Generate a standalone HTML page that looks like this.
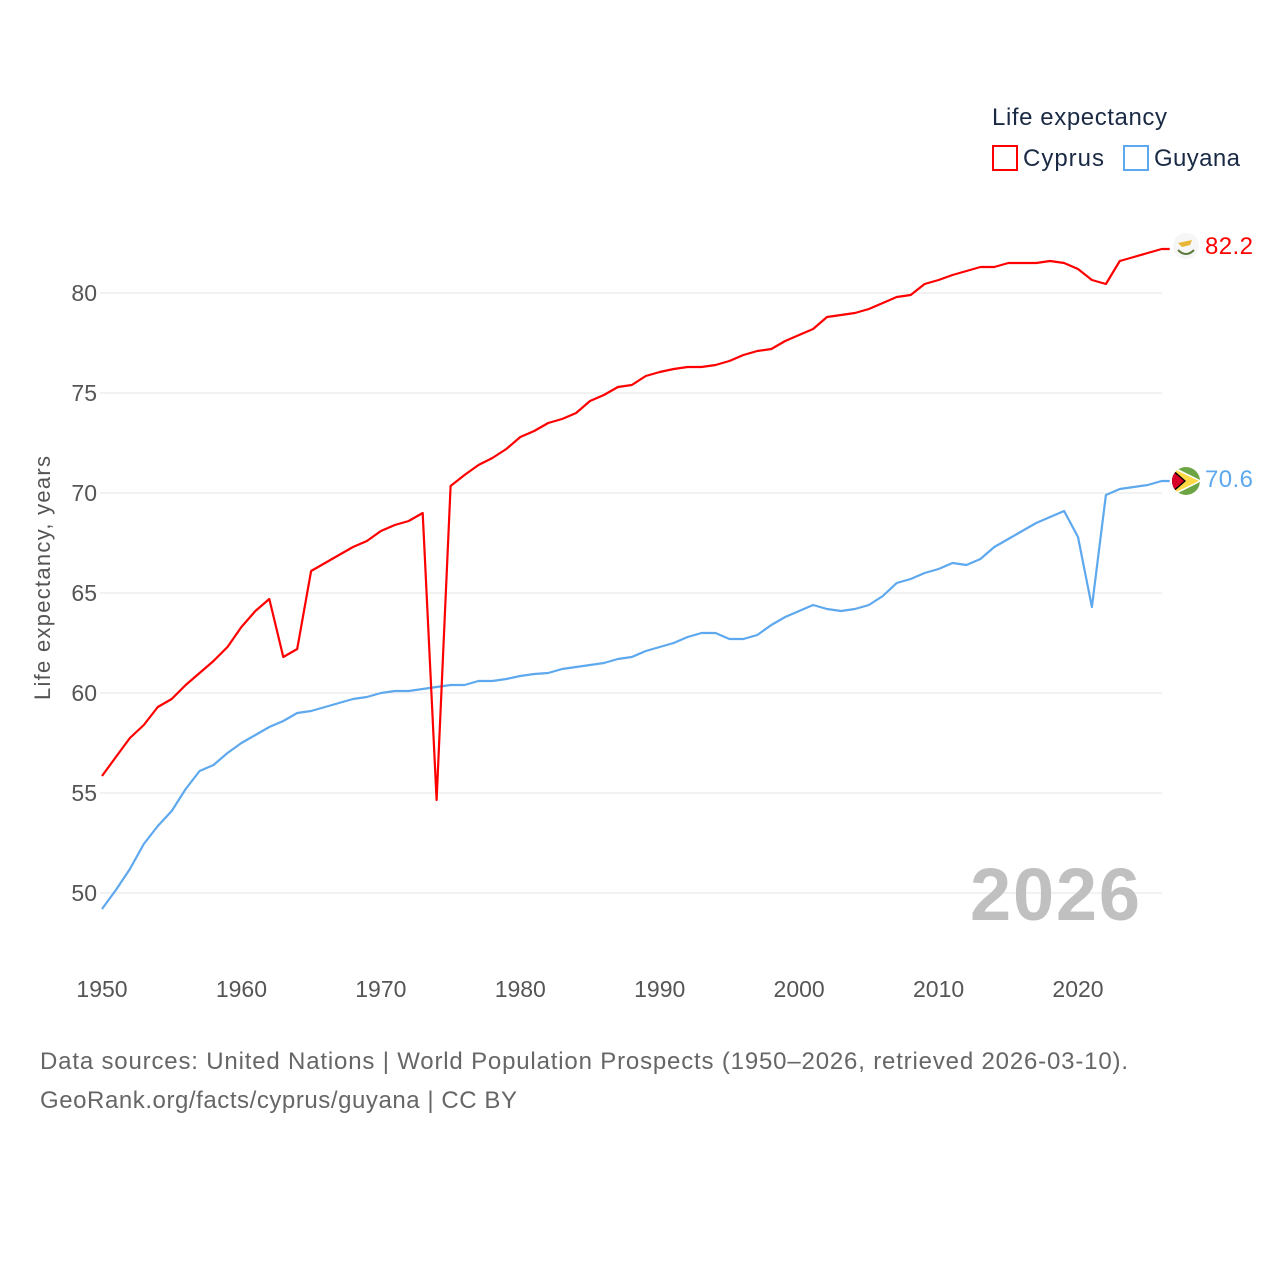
<!DOCTYPE html>
<html><head><meta charset="utf-8">
<style>
body{margin:0;background:#fff;font-family:"Liberation Sans",sans-serif;}
svg text{font-family:"Liberation Sans",sans-serif;}
</style></head>
<body>
<svg id="chart" width="1280" height="1280" viewBox="0 0 1280 1280">
  <g id="grid"></g>
  <g id="yticks"></g>
  <g id="xticks"></g>
  <text transform="translate(50,578) rotate(-90)" text-anchor="middle" font-size="22" fill="#555" textLength="244">Life expectancy, years</text>
  <text x="1140" y="920" text-anchor="end" font-size="74" font-weight="bold" fill="#c0c0c0" textLength="170">2026</text>
  <g id="series"></g>
  <g>
    <text x="992" y="125" font-size="24" fill="#1a2a44" textLength="175">Life expectancy</text>
    <g>
      <rect x="993" y="146" width="24" height="24" fill="none" stroke="#ff0000" stroke-width="2"/>
      <text x="1023" y="166" font-size="24" fill="#1a2a44" textLength="81">Cyprus</text>
    </g>
    <g>
      <rect x="1124" y="146" width="24" height="24" fill="none" stroke="#5ea8ee" stroke-width="2"/>
      <text x="1154" y="166" font-size="24" fill="#1a2a44" textLength="86">Guyana</text>
    </g>
  </g>
  <g>
    <circle cx="1186" cy="246" r="13" fill="#f6f6f6"/>
    <path d="M1178 243 L1192 240 L1190 245 L1182 247 Z" fill="#e8b534"/>
    <path d="M1178 250 Q1186 258 1194 250" fill="none" stroke="#5a7a3a" stroke-width="2"/>
  </g>
  <g>
    <clipPath id="gc"><circle cx="1186" cy="481" r="14"/></clipPath>
    <g clip-path="url(#gc)">
      <rect x="1170" y="465" width="32" height="32" fill="#6da544"/>
      <polygon points="1170,465 1202,481 1170,497" fill="#fff"/>
      <polygon points="1170,467 1199,481 1170,495" fill="#ffda44"/>
      <polygon points="1170,467 1186,481 1170,495" fill="#000"/>
      <polygon points="1170,469 1184,481 1170,493" fill="#d80027"/>
    </g>
  </g>
  <text x="1205" y="254" font-size="24" fill="#ff0000" textLength="48">82.2</text>
  <text x="1205" y="487" font-size="24" fill="#5ea8ee" textLength="48">70.6</text>
  <text x="40" y="1069" font-size="24" fill="#666" textLength="1088">Data sources: United Nations | World Population Prospects (1950–2026, retrieved 2026-03-10).</text>
  <text x="40" y="1108" font-size="24" fill="#666" textLength="477">GeoRank.org/facts/cyprus/guyana | CC BY</text>
</svg>
<script>
const years = [];
for (let y = 1950; y <= 2026; y++) years.push(y);
const cyprus = [55.85,56.8,57.75,58.4,59.3,59.7,60.4,61.0,61.6,62.3,63.3,64.1,64.7,61.8,62.2,66.1,66.5,66.9,67.3,67.6,68.1,68.4,68.6,69.0,54.65,70.35,70.9,71.4,71.75,72.2,72.8,73.1,73.5,73.7,74.0,74.6,74.9,75.3,75.4,75.85,76.05,76.2,76.3,76.3,76.4,76.6,76.9,77.1,77.2,77.6,77.9,78.2,78.8,78.9,79.0,79.2,79.5,79.8,79.9,80.45,80.65,80.9,81.1,81.3,81.3,81.5,81.5,81.5,81.6,81.5,81.2,80.65,80.45,81.6,81.8,82.0,82.2];
const guyana = [49.2,50.15,51.2,52.45,53.35,54.1,55.2,56.1,56.4,57.0,57.5,57.9,58.3,58.6,59.0,59.1,59.3,59.5,59.7,59.8,60.0,60.1,60.1,60.2,60.3,60.4,60.4,60.6,60.6,60.7,60.85,60.95,61.0,61.2,61.3,61.4,61.5,61.7,61.8,62.1,62.3,62.5,62.8,63.0,63.0,62.7,62.7,62.9,63.4,63.8,64.1,64.4,64.2,64.1,64.2,64.4,64.85,65.5,65.7,66.0,66.2,66.5,66.4,66.7,67.3,67.7,68.1,68.5,68.8,69.1,67.8,64.3,69.9,70.2,70.3,70.4,70.6];
const yTicks = [50,55,60,65,70,75,80];
const xTicks = [1950,1960,1970,1980,1990,2000,2010,2020];

const NS = 'http://www.w3.org/2000/svg';
const xs = v => 102 + (v - 1950) * (976 / 70);
const ys = v => 293 + (80 - v) * 20;

const grid = document.getElementById('grid');
const yt = document.getElementById('yticks');
yTicks.forEach(t => {
  const l = document.createElementNS(NS, 'line');
  
  
  l.setAttribute('x1', 100); l.setAttribute('x2', 1162);
  l.setAttribute('y1', ys(t)); l.setAttribute('y2', ys(t));
  l.setAttribute('stroke', '#e6e6e6'); l.setAttribute('stroke-width', 1);
  grid.appendChild(l);
  const tx = document.createElementNS(NS, 'text');
  
  
  tx.setAttribute('x', 97); tx.setAttribute('y', ys(t) + 8);
  tx.setAttribute('text-anchor', 'end'); tx.setAttribute('font-size', 23); tx.setAttribute('fill', '#555');
  tx.textContent = t;
  yt.appendChild(tx);
});
const xt = document.getElementById('xticks');
xTicks.forEach(t => {
  const tx = document.createElementNS(NS, 'text');
  
  
  tx.setAttribute('x', xs(t)); tx.setAttribute('y', 997);
  tx.setAttribute('text-anchor', 'middle'); tx.setAttribute('font-size', 23); tx.setAttribute('fill', '#555');
  tx.textContent = t;
  xt.appendChild(tx);
});
const series = document.getElementById('series');
function drawLine(vals, color, name) {
  const p = document.createElementNS(NS, 'path');
  
  
  p.setAttribute('d', vals.map((v, i) => (i ? 'L' : 'M') + xs(years[i]).toFixed(1) + ' ' + ys(v).toFixed(1)).join(' ') + ' h8');
  p.setAttribute('fill', 'none'); p.setAttribute('stroke', color);
  p.setAttribute('stroke-width', 2.2); p.setAttribute('stroke-linejoin', 'round');
  series.appendChild(p);
}
drawLine(guyana, '#5ea8ee', 'guyana-line');
drawLine(cyprus, '#ff0000', 'cyprus-line');
</script>
</body></html>
